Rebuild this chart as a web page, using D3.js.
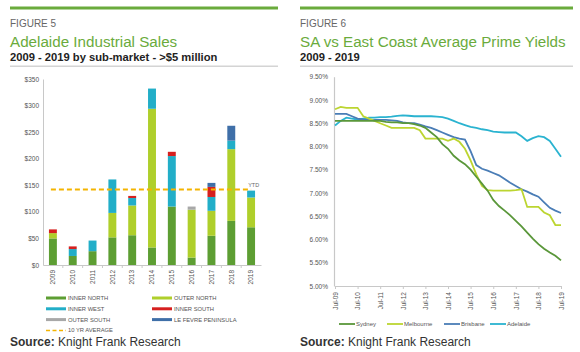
<!DOCTYPE html>
<html>
<head>
<meta charset="utf-8">
<script src="https://cdn.jsdelivr.net/npm/d3@7"></script>
<style>
  body { margin: 0; background: #fff; }
  svg { font-family: "Liberation Sans", Arial, sans-serif; display: block; }
</style>
</head>
<body>
<div id="chart"></div>
<script>
// ---- Figure 5 data ($m by sub-market) ----
const years = ["2009","2010","2011","2012","2013","2014","2015","2016","2017","2018","2019"];
const innerNorth = [50, 17, 26, 52, 56, 33, 110, 14, 55, 83, 71];
const outerNorth = [10, 0, 0, 46, 56, 261, 0, 90, 47, 135, 56];
const innerWest  = [0, 13, 20, 63, 14, 38, 95, 0, 26, 16, 13];
const innerSouth = [7, 5, 0, 0, 4, 0, 8, 0, 19, 0, 0];
const outerSouth = [0, 0, 0, 0, 0, 0, 0, 6, 0, 0, 0];
const leFevre    = [0, 0, 0, 0, 0, 0, 0, 0, 7.5, 28, 0];
const tenYrAverage = 142;
const salesTicks = [0, 50, 100, 150, 200, 250, 300, 350];

// ---- Figure 6 data (quarterly yields, Jul-09 .. Jul-19) ----
const yieldTicks = ["Jul-09","Jul-10","Jul-11","Jul-12","Jul-13","Jul-14","Jul-15","Jul-16","Jul-17","Jul-18","Jul-19"];
const sydney = [8.55,8.55,8.55,8.55,8.55,8.55,8.55,8.55,8.55,8.53,8.52,8.52,8.50,8.50,8.48,8.45,8.40,8.30,8.20,8.05,
  7.95,7.80,7.70,7.62,7.50,7.35,7.20,7.05,6.85,6.72,6.62,6.52,6.40,6.28,6.15,6.02,5.90,5.80,5.72,5.65,5.55];
const melbourne = [8.80,8.85,8.83,8.83,8.83,8.65,8.60,8.55,8.50,8.45,8.40,8.40,8.40,8.40,8.40,8.35,8.17,8.17,8.17,8.17,
  8.12,8.17,8.10,7.95,7.70,7.40,7.15,7.06,7.05,7.05,7.05,7.05,7.06,7.08,6.70,6.70,6.70,6.58,6.52,6.31,6.31];
const brisbane = [8.70,8.70,8.70,8.65,8.60,8.58,8.57,8.57,8.57,8.57,8.56,8.55,8.52,8.50,8.50,8.47,8.43,8.40,8.35,8.30,
  8.25,8.20,8.17,8.15,7.90,7.60,7.52,7.48,7.43,7.38,7.30,7.22,7.15,7.08,7.03,6.97,6.92,6.80,6.68,6.62,6.57];
const adelaide = [8.45,8.55,8.62,8.60,8.58,8.60,8.62,8.62,8.63,8.63,8.64,8.66,8.67,8.66,8.65,8.65,8.65,8.65,8.64,8.63,
  8.60,8.55,8.50,8.46,8.42,8.40,8.37,8.35,8.32,8.31,8.30,8.30,8.30,8.22,8.12,8.18,8.22,8.20,8.12,7.95,7.78];
const yieldAxis = [5.0, 5.5, 6.0, 6.5, 7.0, 7.5, 8.0, 8.5, 9.0, 9.5];

const green = "#6aab3c";
const svg = d3.select("#chart").append("svg").attr("width", 580).attr("height", 352);

// header for each panel
function header(x0, x1, fig, title, sub){
  svg.append("rect").attr("x", x0).attr("y", 6.5).attr("width", x1 - x0).attr("height", 3).attr("fill", green);
  svg.append("text").attr("x", x0).attr("y", 27).attr("fill", "#666").style("font-size", "10px").text(fig);
  svg.append("text").attr("x", x0).attr("y", 47).attr("fill", green).style("font-size", "15.2px").text(title);
  svg.append("text").attr("x", x0).attr("y", 61).attr("fill", "#222").style("font-size", "11.2px")
    .style("font-weight", "bold").text(sub);
  svg.append("rect").attr("x", x0).attr("y", 65.5).attr("width", x1 - x0).attr("height", 1.5).attr("fill", "#d4d4d4");
}
header(10, 278, "FIGURE 5", "Adelaide Industrial Sales", "2009 - 2019 by sub-market - >$5 million");
header(300, 573, "FIGURE 6", "SA vs East Coast Average Prime Yields", "2009 - 2019");

svg.append("text").attr("x", 10).attr("y", 346).style("font-size", "12px").attr("fill", "#333")
  .html('<tspan font-weight="bold">Source:</tspan> Knight Frank Research');
svg.append("text").attr("x", 300).attr("y", 346).style("font-size", "12px").attr("fill", "#333")
  .html('<tspan font-weight="bold">Source:</tspan> Knight Frank Research');

// ================= Figure 5 =================
const series = [
  {name: "INNER NORTH", vals: innerNorth, color: "#5d9e33"},
  {name: "OUTER NORTH", vals: outerNorth, color: "#afcf2b"},
  {name: "INNER WEST", vals: innerWest, color: "#22aec8"},
  {name: "INNER SOUTH", vals: innerSouth, color: "#d6201f"},
  {name: "OUTER SOUTH", vals: outerSouth, color: "#a8a8a8"},
  {name: "LE FEVRE PENINSULA", vals: leFevre, color: "#3f6fa8"}
];
const rows = years.map((y, i) => {
  const r = {year: y};
  series.forEach(s => r[s.name] = s.vals[i]);
  return r;
});
const stacked = d3.stack().keys(series.map(s => s.name))(rows);

const xBand = d3.scaleBand().domain(years).range([43, 261]).paddingInner(0.6).paddingOuter(0.3);
const ySales = d3.scaleLinear().domain([0, 350]).range([265, 79]);

const g5 = svg.append("g");
g5.selectAll("g.layer").data(stacked).join("g")
  .attr("fill", (d, i) => series[i].color)
  .selectAll("rect").data(d => d).join("rect")
    .attr("x", d => xBand(d.data.year))
    .attr("width", xBand.bandwidth())
    .attr("y", d => ySales(d[1]))
    .attr("height", d => ySales(d[0]) - ySales(d[1]));

// y axis
const yAx5 = g5.append("g").attr("transform", "translate(43,0)")
  .call(d3.axisLeft(ySales).tickValues(salesTicks).tickSize(0).tickPadding(4).tickFormat(d => "$" + d));
yAx5.select(".domain").attr("stroke", "#c8c8c8");
yAx5.selectAll("text").style("font-size", "6.5px").attr("fill", "#555").style("font-family", "Liberation Sans, Arial");

// x axis with ticks between bars
const xAx5 = g5.append("g").attr("transform", "translate(0,265)")
  .call(d3.axisBottom(xBand).tickSize(0).tickPadding(0));
xAx5.select(".domain").attr("stroke", "#c8c8c8");
xAx5.selectAll("text")
  .style("font-size", "6.5px").attr("fill", "#555").style("font-family", "Liberation Sans, Arial")
  .attr("text-anchor", "end").attr("transform", "rotate(-90)")
  .attr("x", -5).attr("y", 0).attr("dy", "0.35em");
g5.append("g").selectAll("line").data(years.slice(1)).join("line")
  .attr("x1", d => xBand(d) - xBand.step() * xBand.paddingInner() / 2)
  .attr("x2", d => xBand(d) - xBand.step() * xBand.paddingInner() / 2)
  .attr("y1", 265).attr("y2", 268).attr("stroke", "#c8c8c8");

// 10 yr average dashed line
g5.append("line")
  .attr("x1", xBand(years[0]) + xBand.bandwidth() / 2 - 2)
  .attr("x2", xBand(years[years.length - 1]) + xBand.bandwidth() / 2)
  .attr("y1", ySales(tenYrAverage)).attr("y2", ySales(tenYrAverage))
  .attr("stroke", "#f4b400").attr("stroke-width", 2).attr("stroke-dasharray", "5,3");
g5.append("text").attr("x", xBand("2019") + 1).attr("y", ySales(tenYrAverage) - 3)
  .style("font-size", "5.5px").attr("fill", "#666").text("YTD");

// legend
const leg5 = [
  {name: "INNER NORTH", color: series[0].color, col: 0, row: 0},
  {name: "OUTER NORTH", color: series[1].color, col: 1, row: 0},
  {name: "INNER WEST", color: series[2].color, col: 0, row: 1},
  {name: "INNER SOUTH", color: series[3].color, col: 1, row: 1},
  {name: "OUTER SOUTH", color: series[4].color, col: 0, row: 2},
  {name: "LE FEVRE PENINSULA", color: series[5].color, col: 1, row: 2},
  {name: "10 YR AVERAGE", color: "#f4b400", col: 0, row: 3, dash: true}
];
const li = g5.append("g").selectAll("g").data(leg5).join("g")
  .attr("transform", d => `translate(${46 + d.col * 106},${298 + d.row * 10.8})`);
li.append("line").attr("x1", 0).attr("x2", 20).attr("y1", 0).attr("y2", 0)
  .attr("stroke", d => d.color).attr("stroke-width", d => d.dash ? 1.5 : 3)
  .attr("stroke-dasharray", d => d.dash ? "4,2.5" : null);
li.append("text").attr("x", 22).attr("y", 0).attr("dy", "0.35em")
  .style("font-size", "5.8px").attr("fill", "#555").text(d => d.name);

// ================= Figure 6 =================
const quarters = d3.timeMonth.range(new Date(2009, 6, 1), new Date(2019, 7, 1), 3);
const xTime = d3.scaleTime().domain([new Date(2009, 6, 1), new Date(2019, 6, 1)]).range([335, 561]);
const yYield = d3.scaleLinear().domain([5, 9.5]).range([286, 76.7]);

const g6 = svg.append("g");
const yAx6 = g6.append("g").attr("transform", "translate(334,0)")
  .call(d3.axisLeft(yYield).tickValues(yieldAxis).tickSize(0).tickPadding(6).tickFormat(d3.format(".2f")));
yAx6.selectAll("text").text(d => d3.format(".2f")(d) + "%")
  .style("font-size", "6.5px").attr("fill", "#555").style("font-family", "Liberation Sans, Arial");
yAx6.select(".domain").attr("stroke", "#c8c8c8").attr("stroke-width", 1.2);

const tickDates = yieldTicks.map(t => d3.timeParse("%b-%y")(t));
const xAx6 = g6.append("g").attr("transform", "translate(0,286)")
  .call(d3.axisBottom(xTime).tickValues(tickDates).tickSize(3).tickFormat((d, i) => yieldTicks[i]));
xAx6.select(".domain").attr("stroke", "#c8c8c8");
xAx6.selectAll(".tick line").attr("stroke", "#c8c8c8");
xAx6.selectAll("text")
  .style("font-size", "6.5px").attr("fill", "#555").style("font-family", "Liberation Sans, Arial")
  .attr("text-anchor", "end").attr("transform", "rotate(-90)")
  .attr("x", -6).attr("y", 0).attr("dy", "0.35em");

const cities = [
  {name: "Sydney", vals: sydney, color: "#5a973a"},
  {name: "Melbourne", vals: melbourne, color: "#bcd531"},
  {name: "Brisbane", vals: brisbane, color: "#4a7db6"},
  {name: "Adelaide", vals: adelaide, color: "#2ab3d0"}
];
const line = d3.line().x((d, i) => xTime(quarters[i])).y(d => yYield(d));
// draw Adelaide first so the others sit on top
g6.selectAll("path.city").data(cities.slice().reverse()).join("path")
  .attr("class", "city")
  .attr("d", d => line(d.vals))
  .attr("fill", "none").attr("stroke", d => d.color).attr("stroke-width", 1.8);

const legX = [339, 387, 444, 490];
const l6 = g6.append("g").selectAll("g").data(cities).join("g")
  .attr("transform", (d, i) => `translate(${legX[i]},324)`);
l6.append("line").attr("x1", 0).attr("x2", 16).attr("stroke", d => d.color).attr("stroke-width", 1.8);
l6.append("text").attr("x", 17).attr("dy", "0.35em").style("font-size", "6px").attr("fill", "#555").text(d => d.name);
</script>
</body>
</html>
